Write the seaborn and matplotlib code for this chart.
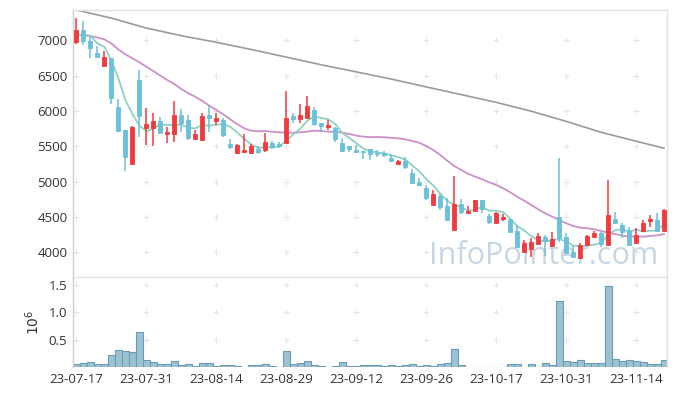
import numpy as np
import pandas as pd
import seaborn as sns
import matplotlib.pyplot as plt

# daily candles, 23-07-17 .. 23-11-20 (85 trading days)
opens = [6981, 7147, 6990, 6825, 6640, 6745, 6050, 5730, 5250, 6440,
         5760, 5765, 5860, 5670, 5670, 5945, 5875, 5610, 5595, 5945,
         5865, 5875, 5535, 5410, 5425, 5405, 5465, 5450, 5545, 5535,
         5550, 5930, 5880, 5895, 6015, 5835, 5780, 5755, 5550, 5505,
         5450, 5440, 5460, 5400, 5410, 5330, 5245, 5290, 5125, 4990,
         4905, 4670, 4800, 4650, 4320, 4680, 4555, 4585, 4740, 4520,
         4420, 4475, 4465, 4305, 4010, 4045, 4110, 4210, 4090, 4505,
         4210, 4005, 3915, 4105, 4220, 4275, 4105, 4470, 4385, 4315,
         4125, 4305, 4445, 4455, 4305]
closes = [7147, 6990, 6890, 6760, 6770, 6190, 5720, 5350, 5770, 5930,
          5815, 5860, 5695, 5705, 5945, 5835, 5615, 5675, 5930, 5905,
          5900, 5660, 5495, 5520, 5450, 5505, 5420, 5555, 5495, 5505,
          5905, 5890, 5945, 6070, 5810, 5790, 5800, 5605, 5440, 5460,
          5425, 5415, 5390, 5385, 5380, 5295, 5290, 5210, 4975, 4950,
          4770, 4820, 4640, 4460, 4680, 4570, 4590, 4740, 4610, 4435,
          4560, 4490, 4290, 4080, 4125, 4150, 4230, 4165, 4185, 4195,
          3995, 3935, 4105, 4230, 4270, 4110, 4530, 4420, 4290, 4105,
          4245, 4410, 4470, 4305, 4600]
highs = [7313, 7274, 7052, 6925, 6850, 6745, 6165, 5730, 5790, 6580,
         6040, 5965, 5920, 5770, 6145, 6030, 5945, 5730, 5965, 6075,
         5975, 5895, 5600, 5530, 5670, 5530, 5505, 5685, 5580, 5565,
         6285, 5975, 6100, 6215, 6060, 5835, 5875, 5780, 5615, 5505,
         5520, 5440, 5460, 5450, 5440, 5390, 5310, 5355, 5180, 5055,
         4950, 4880, 4835, 4765, 5080, 4750, 4655, 4745, 4740, 4540,
         4570, 4540, 4465, 4385, 4175, 4195, 4270, 4245, 4290, 5330,
         4275, 4090, 4135, 4240, 4305, 4290, 5025, 4575, 4410, 4360,
         4340, 4455, 4530, 4560, 4610]
lows = [6949, 6935, 6746, 6760, 6640, 6095, 5720, 5155, 5250, 5630,
        5520, 5510, 5690, 5550, 5565, 5705, 5590, 5610, 5595, 5705,
        5795, 5630, 5460, 5390, 5410, 5390, 5390, 5425, 5465, 5470,
        5540, 5825, 5835, 5895, 5790, 5705, 5730, 5565, 5440, 5425,
        5400, 5315, 5305, 5355, 5355, 5280, 5230, 5175, 4975, 4940,
        4740, 4670, 4600, 4445, 4320, 4540, 4550, 4580, 4560, 4400,
        4420, 4445, 4290, 4055, 4005, 3930, 4110, 3945, 4085, 4150,
        3995, 3935, 3900, 4100, 4220, 4070, 4100, 4415, 4195, 4100,
        4125, 4305, 4360, 4305, 4305]
prior_closes = [6990, 6920, 7320, 7000]  # closes before the window, for MA5

# volume in millions
volume = [0.055, 0.07, 0.09, 0.055, 0.055, 0.22, 0.31, 0.29, 0.27, 0.64,
          0.127, 0.09, 0.055, 0.055, 0.11, 0.036, 0.055, 0.018, 0.07, 0.07,
          0.018, 0.036, 0.036, 0.018, 0.005, 0.036, 0.036, 0.055, 0.018, 0.005,
          0.29, 0.055, 0.07, 0.11, 0.036, 0.018, 0.005, 0.03, 0.09, 0.018,
          0.018, 0.036, 0.036, 0.036, 0.018, 0.036, 0.018, 0.036, 0.055, 0.018,
          0.036, 0.018, 0.055, 0.07, 0.33, 0.036, 0.01, 0.01, 0.01, 0.01,
          0.01, 0.01, 0.055, 0.055, 0.01, 0.055, 0.01, 0.07, 0.036, 1.21,
          0.11, 0.09, 0.127, 0.07, 0.07, 0.07, 1.48, 0.145, 0.11, 0.127,
          0.11, 0.09, 0.055, 0.055, 0.127]

ma20 = [7076, 7070, 7062, 7040, 7015, 6958, 6873, 6803, 6746, 6690,
        6627, 6566, 6500, 6439, 6382, 6311, 6250, 6203, 6142, 6075,
        6014, 5953, 5882, 5812, 5755, 5721, 5712, 5717, 5705, 5698,
        5693, 5693, 5698, 5707, 5721, 5717, 5707, 5707, 5693, 5674,
        5651, 5636, 5630, 5632, 5627, 5620, 5613, 5599, 5575, 5551,
        5504, 5448, 5377, 5296, 5221, 5165, 5108, 5070, 5033, 4990,
        4952, 4905, 4849, 4787, 4730, 4669, 4608, 4551, 4504, 4457,
        4410, 4372, 4348, 4339, 4325, 4301, 4277, 4258, 4235, 4221,
        4221, 4221, 4230, 4239, 4258]

ma_long_idx = [0, 5, 10, 15, 20, 25, 30, 35, 40, 45, 50, 55, 60, 65, 70, 75, 80, 84]
ma_long = [7430, 7315, 7175, 7066, 6973, 6871, 6763, 6654, 6554, 6452,
           6341, 6232, 6122, 5997, 5853, 5698, 5572, 5472]

tick_pos = [0, 10, 20, 30, 40, 50, 60, 70, 80]
tick_labels = ['23-07-17', '23-07-31', '23-08-14', '23-08-29', '23-09-12',
               '23-09-26', '23-10-17', '23-10-31', '23-11-14']

df = pd.DataFrame({'open': opens, 'close': closes, 'high': highs, 'low': lows,
                   'volume': volume, 'ma20': ma20})
df['idx'] = np.arange(len(df))
all_close = pd.Series(prior_closes + closes)
df['ma5'] = all_close.rolling(5).mean().iloc[len(prior_closes):].values

sns.set_style('white')
plt.rcParams['font.family'] = ['Open Sans', 'DejaVu Sans']

UP = '#ef3b3f'
DOWN = '#6cc0d8'
GRIDC = '#e6e6e6'
TXT = '#333333'

fig = plt.figure(figsize=(6.77, 3.96), dpi=100)
ax = fig.add_axes([73/677, 1-277.3/396, 594/677, 267.3/396])
axv = fig.add_axes([73/677, 1-367.3/396, 594/677, 90/396])

# grid as '+' marks at tick crossings
price_ticks = [4000, 4500, 5000, 5500, 6000, 6500, 7000]
gx, gy = np.meshgrid(tick_pos, price_ticks)
ax.scatter(gx.ravel(), gy.ravel(), marker='+', s=14, color=GRIDC, linewidths=0.8, zorder=0)
vol_ticks = [0.5, 1.0, 1.5]
gx2, gy2 = np.meshgrid(tick_pos, vol_ticks)
axv.scatter(gx2.ravel(), gy2.ravel(), marker='+', s=14, color=GRIDC, linewidths=0.8, zorder=0)

ax.text(0.985, 0.025, 'InfoPointer.com', transform=ax.transAxes, ha='right', va='bottom',
        fontsize=22, color='#c6d7e3', zorder=1)

# moving averages
sns.lineplot(x=ma_long_idx, y=ma_long, ax=ax, color='#9a9a9a', lw=1.2, zorder=2)
sns.lineplot(data=df, x='idx', y='ma20', ax=ax, color='#cc90c8', lw=1.3, zorder=2)
sns.lineplot(data=df, x='idx', y='ma5', ax=ax, color='#8fd0c4', lw=1.3, zorder=2)

# candles
colors = np.where(df['close'] >= df['open'], UP, DOWN)
ax.vlines(df['idx'], df['low'], df['high'], colors=colors, lw=1.1, zorder=3)
body_lo = np.minimum(df['open'], df['close'])
body_h = np.maximum((df['close'] - df['open']).abs(), 20)
ax.bar(df['idx'], body_h, bottom=body_lo, width=0.6, color=colors,
       edgecolor=colors, linewidth=0.6, zorder=4)

ax.set_xlim(-0.47, 84.4)
ax.set_ylim(3645, 7430)
ax.set_yticks(price_ticks)
ax.set_xticks(tick_pos)
ax.set_xticklabels([])
ax.set_xlabel('')
ax.set_ylabel('')

# volume
sns.barplot(data=df, x='idx', y='volume', ax=axv, color='#9cc2d2', width=1.0,
            edgecolor='#6a9db3', linewidth=0.8, saturation=1, native_scale=True)
axv.set_xlim(-0.47, 84.4)
axv.set_ylim(0, 1.636)
axv.set_yticks(vol_ticks)
axv.set_yticklabels(['0.5', '1.0', '1.5'])
axv.set_xticks(tick_pos)
axv.set_xticklabels(tick_labels)
axv.set_xlabel('')
axv.set_ylabel(r'$10^6$', color=TXT, fontsize=10, labelpad=4)

for a in (ax, axv):
    a.tick_params(length=0, labelsize=9.5, labelcolor=TXT, pad=4)
    for side in ('top', 'right', 'left'):
        a.spines[side].set_color('#e2e2e2')
        a.spines[side].set_linewidth(1)
    a.spines['bottom'].set_visible(False)
ax.spines['left'].set_color('#d0d0d0')
axv.spines['left'].set_color('#d0d0d0')
ax.spines['bottom'].set_visible(True)
ax.spines['bottom'].set_color('#e2e2e2')

fig.savefig('out.png', dpi=100)
